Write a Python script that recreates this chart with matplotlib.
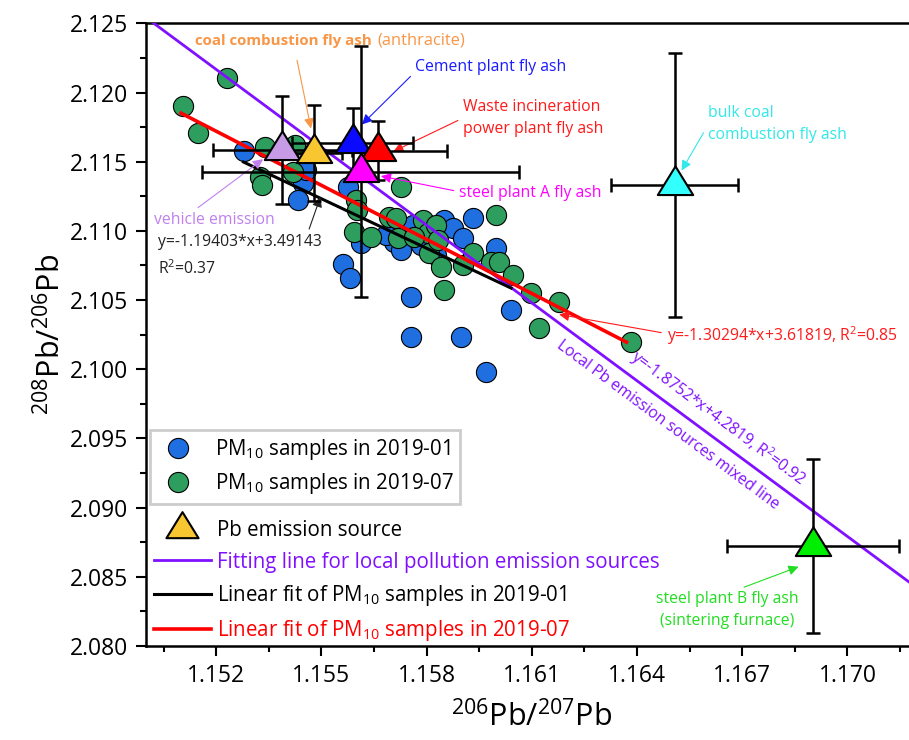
import numpy as np
import matplotlib
matplotlib.use("Agg")
import matplotlib.pyplot as plt
from matplotlib.lines import Line2D
from matplotlib.path import Path
from matplotlib.ticker import MultipleLocator, FormatStrFormatter

plt.rcParams['font.family'] = ['Open Sans', 'DejaVu Sans']
plt.rcParams['mathtext.fontset'] = 'custom'
plt.rcParams['mathtext.rm'] = 'Open Sans'
plt.rcParams['mathtext.default'] = 'regular'

# PM10 samples 2019-01 (206Pb/207Pb, 208Pb/206Pb)
jan_x = [1.15280, 1.15449, 1.15432, 1.15455, 1.15575, 1.15563, 1.15583, 1.15706,
         1.15726, 1.15761, 1.15849, 1.15875, 1.15932, 1.15904, 1.15812, 1.15826,
         1.15998, 1.15755, 1.15755, 1.15898, 1.15970, 1.16041, 1.15784, 1.15612,
         1.15684]
jan_y = [2.11577, 2.11345, 2.11222, 2.11439, 2.11318, 2.10760, 2.10659, 2.10919,
         2.10861, 2.11042, 2.11078, 2.11020, 2.11092, 2.10948, 2.10991, 2.10825,
         2.10875, 2.10521, 2.10232, 2.10232, 2.09979, 2.10427, 2.10897, 2.10912,
         2.10969]

# PM10 samples 2019-07
jul_x = [1.15232, 1.15106, 1.15149, 1.15340, 1.15426, 1.15326, 1.15332, 1.15420,
         1.15726, 1.15598, 1.15603, 1.15592, 1.15641, 1.15692, 1.15712, 1.15718,
         1.15789, 1.15804, 1.15807, 1.15841, 1.15849, 1.15827, 1.15998, 1.15904,
         1.15932, 1.15984, 1.16007, 1.16047, 1.16098, 1.16178, 1.16121, 1.16384,
         1.15764, 1.15832]
jul_y = [2.12105, 2.11901, 2.11706, 2.11605, 2.11620, 2.11389, 2.11331, 2.11425,
         2.11318, 2.11222, 2.11150, 2.10991, 2.10955, 2.11100, 2.11092, 2.10948,
         2.11078, 2.10984, 2.10839, 2.10738, 2.10571, 2.11042, 2.11114, 2.10753,
         2.10839, 2.10774, 2.10774, 2.10680, 2.10550, 2.10485, 2.10297, 2.10196,
         2.10955, 2.10933]

# Pb emission sources
src_names = ['vehicle emission', 'coal combustion fly ash (anthracite)', 'Cement plant fly ash',
             'Waste incineration power plant fly ash', 'steel plant A fly ash',
             'bulk coal combustion fly ash', 'steel plant B fly ash (sintering furnace)']
src_x = [1.15389, 1.15478, 1.15589, 1.15661, 1.15612, 1.16507, 1.16901]
src_y = [2.11584, 2.11562, 2.11635, 2.11580, 2.11428, 2.11333, 2.08726]
src_xerr = [0.00197, 0.00080, 0.00172, 0.00197, 0.00452, 0.00180, 0.00245]
src_yerr = [0.00390, 0.00347, 0.00250, 0.00213, 0.00907, 0.00954, 0.00629]
src_colors = ['#c89be6', '#f7c630', '#0a0aff', '#ff0000', '#ff00ff', '#33ffff', '#00ee00']

# fitted lines: slope, intercept, x range
mix_k, mix_b = -1.8752, 4.2819
jan_k, jan_b = -1.19403, 3.49143
jul_k, jul_b = -1.30294, 3.61819
mix_range = [1.150, 1.172]
jan_range = [1.15278, 1.16041]
jul_range = [1.15100, 1.16370]

# triangle marker with its centroid on the data point
tri = Path([(-1, -0.54), (1, -0.54), (0, 1.08), (-1, -0.54)],
           [Path.MOVETO, Path.LINETO, Path.LINETO, Path.CLOSEPOLY])

fig = plt.figure(figsize=(9.09, 7.40), dpi=100)
ax = fig.add_axes([0.1606, 0.1270, 0.8489, 0.8415])

ax.plot(jan_x, jan_y, 'o', ms=14.5, mfc='#1f6fe0', mec='black', mew=0.8, zorder=2)
ax.plot(jul_x, jul_y, 'o', ms=14.5, mfc='#2e9e5e', mec='black', mew=0.8, zorder=2)

xx = np.array(mix_range)
ax.plot(xx, mix_k * xx + mix_b, color='#8010ff', lw=2, zorder=3)
xx = np.array(jan_range)
ax.plot(xx, jan_k * xx + jan_b, color='black', lw=2.2, zorder=3)
xx = np.array(jul_range)
ax.plot(xx, jul_k * xx + jul_b, color='red', lw=2.6, zorder=3)

ax.errorbar(src_x, src_y, xerr=src_xerr, yerr=src_yerr, fmt='none', ecolor='black',
            elinewidth=1.8, capsize=5, capthick=1.8, zorder=4)
for x, y, c in zip(src_x, src_y, src_colors):
    ax.plot(x, y, marker=tri, ls='none', ms=27.5, mfc=c, mec='black', mew=1.5, zorder=5)

ax.set_xlim(1.150, 1.172)
ax.set_ylim(2.080, 2.125)
ax.set_xticks(np.arange(1.152, 1.1721, 0.003))
ax.xaxis.set_minor_locator(MultipleLocator(0.0015))
ax.xaxis.set_major_formatter(FormatStrFormatter('%.3f'))
ax.yaxis.set_major_locator(MultipleLocator(0.005))
ax.yaxis.set_minor_locator(MultipleLocator(0.0025))
ax.yaxis.set_major_formatter(FormatStrFormatter('%.3f'))
ax.tick_params(which='major', direction='out', length=7, width=1.5, labelsize=16.5, pad=6)
ax.tick_params(which='minor', direction='out', length=4, width=1.5)
for s in ax.spines.values():
    s.set_linewidth(1.8)

ax.set_xlabel(r'$^{206}$Pb/$^{207}$Pb', fontsize=22, labelpad=9)
ax.set_ylabel(r'$^{208}$Pb/$^{206}$Pb', fontsize=22, labelpad=2)

# legends
h1 = [Line2D([], [], ls='none', marker='o', ms=14.5, mfc='#1f6fe0', mec='black', mew=0.8),
      Line2D([], [], ls='none', marker='o', ms=14.5, mfc='#2e9e5e', mec='black', mew=0.8)]
leg1 = ax.legend(h1, ['PM$_{10}$ samples in 2019-01', 'PM$_{10}$ samples in 2019-07'],
                 loc='upper left', bbox_to_anchor=(0.005, 0.347), borderaxespad=0,
                 fontsize=14.8, frameon=True, fancybox=False, edgecolor='#c0c0c0',
                 handlelength=2.0, handletextpad=0.8, labelspacing=0.45, borderpad=0.35)
leg1.get_frame().set_linewidth(2)
ax.add_artist(leg1)
h2 = [Line2D([], [], ls='none', marker=tri, ms=25, mfc='#f7c630', mec='black', mew=1.5),
      Line2D([], [], color='#8010ff', lw=2),
      Line2D([], [], color='black', lw=2.2),
      Line2D([], [], color='red', lw=2.6)]
ax.legend(h2, ['Pb emission source', 'Fitting line for local pollution emission sources',
               'Linear fit of PM$_{10}$ samples in 2019-01', 'Linear fit of PM$_{10}$ samples in 2019-07'],
          loc='upper left', bbox_to_anchor=(0.0, 0.215), borderaxespad=0, frameon=False,
          fontsize=14.8, handlelength=2.75, handletextpad=0.3, labelspacing=0.5,
          labelcolor=['black', '#8010ff', 'black', 'red'])

# annotations
fs = 11.3
arw = dict(arrowstyle='-|>', lw=0.8, mutation_scale=15)
t1 = ax.text(0.063, 0.972, 'coal combustion fly ash', transform=ax.transAxes, color='#f79646',
             fontsize=10.8, fontweight='bold', ha='left', va='center')
ax.annotate('(anthracite)', xy=(1, 0.5), xycoords=t1, xytext=(4, 0), textcoords='offset points',
            color='#f79646', fontsize=11.8, ha='left', va='center')
ax.annotate('', xy=(1.15472, 2.1172), xytext=(0.195, 0.945), textcoords='axes fraction',
            arrowprops=dict(arw, color='#f79646'))
ax.annotate('Cement plant fly ash', xy=(1.15610, 2.11755), xytext=(0.349, 0.930),
            textcoords='axes fraction', color='#1a1aff', fontsize=fs, ha='left', va='center',
            arrowprops=dict(arw, color='#1a1aff', relpos=(0.0, 0.2)))
ax.annotate('Waste incineration\npower plant fly ash', xy=(1.15698, 2.11565), xytext=(0.411, 0.848),
            textcoords='axes fraction', color='#ff1a1a', fontsize=fs, ha='left', va='center',
            linespacing=1.5, arrowprops=dict(arw, color='#ff1a1a', relpos=(0.0, 0.5)))
ax.annotate('steel plant A fly ash', xy=(1.15662, 2.1140), xytext=(0.406, 0.727),
            textcoords='axes fraction', color='#ff00ff', fontsize=fs, ha='left', va='center',
            arrowprops=dict(arw, color='#ff00ff', relpos=(0.0, 0.6)))
ax.annotate('bulk coal\ncombustion fly ash', xy=(1.16523, 2.11418), xytext=(0.728, 0.839),
            textcoords='axes fraction', color='#33e8e8', fontsize=fs, ha='left', va='center',
            linespacing=1.5, arrowprops=dict(arw, color='#33e8e8', relpos=(0.0, 0.45)))
ax.annotate('vehicle emission', xy=(1.15340, 2.11530), xytext=(0.010, 0.684),
            textcoords='axes fraction', color='#c080f0', fontsize=fs, ha='left', va='center',
            arrowprops=dict(arw, color='#c080f0', relpos=(0.3, 0.9)))
ax.annotate('y=-1.19403*x+3.49143\nR$^2$=0.37', xy=(1.15500, 2.11265), xytext=(0.015, 0.626),
            textcoords='axes fraction', color='#222222', fontsize=fs, ha='left', va='center',
            linespacing=1.6, arrowprops=dict(arw, color='#222222', relpos=(0.9, 0.85)))
ax.annotate('y=-1.30294*x+3.61819, R$^2$=0.85', xy=(1.16170, 2.10400), xytext=(0.675, 0.498),
            textcoords='axes fraction', color='#ff1a1a', fontsize=fs, ha='left', va='center',
            arrowprops=dict(arw, color='#ff1a1a', relpos=(0.0, 0.6)))
ax.annotate('steel plant B fly ash\n(sintering furnace)', xy=(1.16868, 2.08580), xytext=(0.753, 0.058),
            textcoords='axes fraction', color='#22dd22', fontsize=fs, ha='center', va='center',
            linespacing=1.5, arrowprops=dict(arw, color='#22dd22', relpos=(0.55, 1.0)))

ax.text(1.16630, 2.09646, 'y=-1.8752*x+4.2819, R$^2$=0.92', color='#8010ff', fontsize=fs,
        rotation=-36.6, rotation_mode='anchor', ha='center', va='center')
ax.text(1.16487, 2.09596, 'Local Pb emission sources mixed line', color='#8010ff', fontsize=fs,
        rotation=-36.6, rotation_mode='anchor', ha='center', va='center')

fig.savefig('out.png', dpi=100)
